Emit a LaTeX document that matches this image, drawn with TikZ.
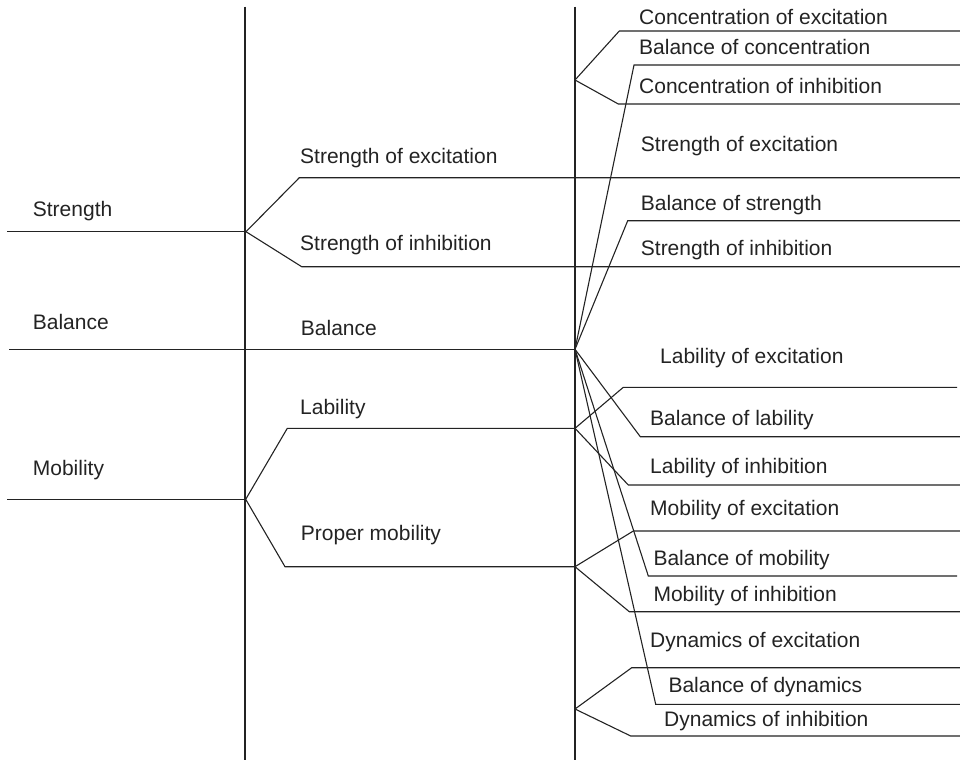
\documentclass[tikz,border=0pt]{standalone}
\usepackage{fontspec}
\setmainfont{Liberation Sans}
\definecolor{ink}{RGB}{35,35,35}
\tikzset{
  lbl/.style={anchor=base west, inner sep=0pt, text=ink,
              font=\fontsize{21}{25}\selectfont},
  wire/.style={draw=ink, line width=1.1pt, line join=miter}
}
\begin{document}
\begin{tikzpicture}[x=1pt, y=-1pt]
\useasboundingbox (0,0) rectangle (960,760);

% ---- column rules ----
\coordinate (colA top) at (245,6.7);  \coordinate (colA bot) at (245,760);
\coordinate (colB top) at (575,6.7);  \coordinate (colB bot) at (575,760);
\draw[wire] (colA top) -- (colA bot);
\draw[wire] (colB top) -- (colB bot);

% ---- first level ----
\node[lbl] (strength) at (32.7,216) {Strength};
\node[lbl] (balance)  at (32.7,329.3) {Balance};
\node[lbl] (mobility) at (32.7,475) {Mobility};

\coordinate (s0) at (7,231.7);   \coordinate (sF) at (246,231.7);
\coordinate (b0) at (9,349.3);   \coordinate (bF) at (575,349.3);
\coordinate (m0) at (7,499.3);   \coordinate (mF) at (245.7,499.3);
\draw[wire] (s0) -- (sF);
\draw[wire] (b0) -- (bF);
\draw[wire] (m0) -- (mF);

% ---- second level ----
\node[lbl] (sexc) at (300,163.3) {Strength of excitation};
\node[lbl] (sinh) at (300,250)   {Strength of inhibition};
\node[lbl] (bal2) at (300.7,335) {Balance};
\node[lbl] (lab)  at (300,414)   {Lability};
\node[lbl] (prop) at (300.7,540.7) {Proper mobility};

\coordinate (sexcK) at (299.3,177.7); \coordinate (sexcE) at (960,177.7);
\coordinate (sinhK) at (301.7,266.7); \coordinate (sinhE) at (960,266.7);
\draw[wire] (sF) -- (sexcK) -- (sexcE);
\draw[wire] (sF) -- (sinhK) -- (sinhE);

\coordinate (labK)  at (287.3,428.3); \coordinate (labF)  at (575,428.3);
\coordinate (propK) at (285,566.7);   \coordinate (propF) at (575,566.7);
\draw[wire] (mF) -- (labK) -- (labF);
\draw[wire] (mF) -- (propK) -- (propF);

% ---- third level: labels ----
\node[lbl] (cexc) at (639,24.3)   {Concentration of excitation};
\node[lbl] (cbal) at (639,54.3)   {Balance of concentration};
\node[lbl] (cinh) at (639,93.3)   {Concentration of inhibition};
\node[lbl] (sexc3) at (640.7,151) {Strength of excitation};
\node[lbl] (sbal) at (640.7,210)  {Balance of strength};
\node[lbl] (sinh3) at (640.7,255) {Strength of inhibition};
\node[lbl] (lexc) at (660,363.3)  {Lability of excitation};
\node[lbl] (lbal) at (650,425)    {Balance of lability};
\node[lbl] (linh) at (650,473.3)  {Lability of inhibition};
\node[lbl] (mexc) at (650,515.7)  {Mobility of excitation};
\node[lbl] (mbal) at (653.3,565)  {Balance of mobility};
\node[lbl] (minh) at (653.3,601.7) {Mobility of inhibition};
\node[lbl] (dexc) at (650,647.5)  {Dynamics of excitation};
\node[lbl] (dbal) at (668.3,692.7) {Balance of dynamics};
\node[lbl] (dinh) at (664,726.7)  {Dynamics of inhibition};

% ---- third level: concentration fork ----
\coordinate (cF)    at (575,80);
\coordinate (cexcK) at (619.3,31);  \coordinate (cexcE) at (960,31);
\coordinate (cinhK) at (618.3,104); \coordinate (cinhE) at (960,104);
\draw[wire] (cF) -- (cexcK) -- (cexcE);
\draw[wire] (cF) -- (cinhK) -- (cinhE);

% ---- third level: balance branches from the balance point ----
\coordinate (cbalK) at (634,65);      \coordinate (cbalE) at (960,65);
\coordinate (sbalK) at (627.7,220.7); \coordinate (sbalE) at (960,220.7);
\coordinate (lbalK) at (640.3,436.7); \coordinate (lbalE) at (960,436.7);
\coordinate (mbalK) at (648.3,576);   \coordinate (mbalE) at (957,576);
\coordinate (dbalK) at (655.7,704.3); \coordinate (dbalE) at (960,704.3);
\draw[wire] (bF) -- (cbalK) -- (cbalE);
\draw[wire] (bF) -- (sbalK) -- (sbalE);
\draw[wire] (bF) -- (lbalK) -- (lbalE);
\draw[wire] (bF) -- (mbalK) -- (mbalE);
\draw[wire] (bF) -- (dbalK) -- (dbalE);

% ---- third level: lability fork ----
\coordinate (lexcK) at (623.3,387.3); \coordinate (lexcE) at (957,387.3);
\coordinate (linhK) at (628.3,485);   \coordinate (linhE) at (960,485);
\draw[wire] (labF) -- (lexcK) -- (lexcE);
\draw[wire] (labF) -- (linhK) -- (linhE);

% ---- third level: proper mobility fork ----
\coordinate (mexcK) at (633.3,531);   \coordinate (mexcE) at (960,531);
\coordinate (minhK) at (629.3,611.7); \coordinate (minhE) at (960,611.7);
\draw[wire] (propF) -- (mexcK) -- (mexcE);
\draw[wire] (propF) -- (minhK) -- (minhE);

% ---- third level: dynamics fork ----
\coordinate (dF)    at (575,709);
\coordinate (dexcK) at (631.7,667.7); \coordinate (dexcE) at (960,667.7);
\coordinate (dinhK) at (630.7,736);   \coordinate (dinhE) at (960,736);
\draw[wire] (dF) -- (dexcK) -- (dexcE);
\draw[wire] (dF) -- (dinhK) -- (dinhE);
\end{tikzpicture}
\end{document}
